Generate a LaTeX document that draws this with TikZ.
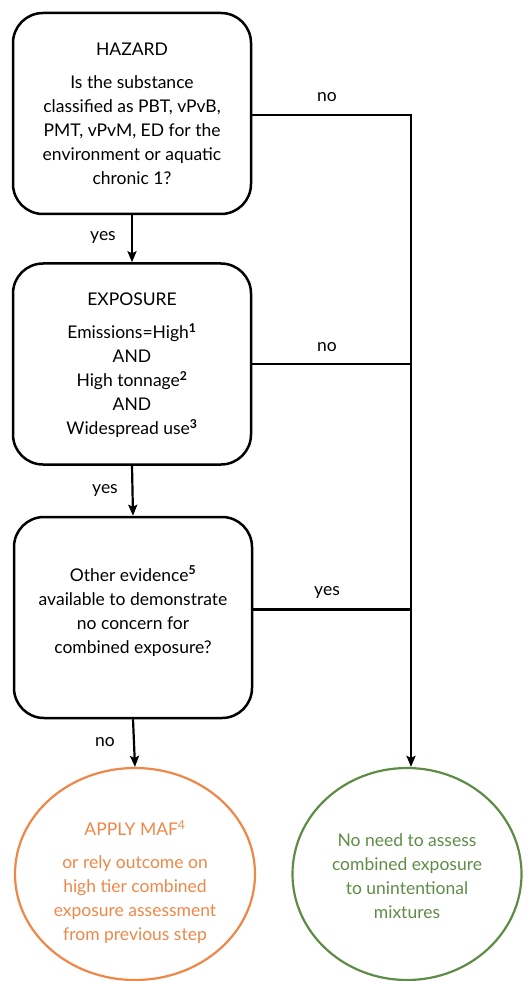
\documentclass[tikz,border=0pt]{standalone}
\usepackage{fontspec}
\setmainfont{Lato}
\usetikzlibrary{arrows.meta,shapes.geometric}
\definecolor{orangec}{HTML}{EE8748}
\definecolor{greenc}{HTML}{5E8C46}
\tikzset{
  stepbox/.style={draw=black, line width=2.5pt, rounded corners=30pt, minimum width=238pt, minimum height=201pt, inner sep=0pt},
  boxtext/.style={align=center, font=\fontsize{17.5}{24}\selectfont, inner sep=0pt},
  lbl/.style={font=\fontsize{17.5}{20}\selectfont, inner sep=0pt},
  conn/.style={line width=2.2pt, -{Stealth[length=11pt,width=9pt,inset=2pt]}},
  plain/.style={line width=2.2pt},
  endcirc/.style={draw, line width=2.2pt, ellipse, inner sep=0pt},
}
\begin{document}
\begin{tikzpicture}[x=1pt,y=-1pt]
\useasboundingbox (0,0) rectangle (527,981);
\node[stepbox] (box1) at (132,113.5) {};
\node[stepbox] (box2) at (132,364) {};
\node[stepbox] (box3) at (133,617.5) {};
\node[boxtext] (t1) at (132,113.5) {HAZARD\\[9pt]Is the substance\\classified as PBT, vPvB,\\PMT, vPvM, ED for the\\environment or aquatic\\chronic 1?};
\node[boxtext] (t2) at (132,365) {EXPOSURE\\[9pt]Emissions=High\textsuperscript{\textbf{1}}\\AND\\High tonnage\textsuperscript{\textbf{2}}\\AND\\Widespread use\textsuperscript{\textbf{3}}};
\node[boxtext] (t3) at (133,611) {Other evidence\textsuperscript{\textbf{5}}\\available to demonstrate\\no concern for\\combined exposure?};
\node[endcirc, draw=orangec, minimum width=240pt, minimum height=212pt] (maf) at (135,874) {};
\node[endcirc, draw=greenc, minimum width=229pt, minimum height=212pt] (noneed) at (407,874) {};
\node[boxtext, text=orangec] (t4) at (135,882) {APPLY MAF\textsuperscript{4}\\[9pt]or rely outcome on\\high tier combined\\exposure assessment\\from previous step};
\node[boxtext, text=greenc] (t5) at (407,876.5) {No need to assess\\combined exposure\\to unintentional\\mixtures};
\coordinate (c1) at (411,115);
\draw[conn] (box1.south) -- (box2.north);
\draw[conn] (box2.south) -- (box3.north);
\draw[conn] (box3.south) -- (maf.north);
\draw[conn] (box1.east |- c1) -- (c1) -- (c1 |- noneed.north);
\draw[plain] (box2.east) -- (box2.east -| c1);
\draw[plain] ([yshift=8pt]box3.east) -- ([yshift=8pt]box3.east -| c1);
\node[lbl] (l1) at (327,97) {no};
\node[lbl] (l2) at (327,347) {no};
\node[lbl] (l3) at (327,592) {yes};
\node[lbl] (l4) at (103,237) {yes};
\node[lbl] (l5) at (105,490) {yes};
\node[lbl] (l6) at (105,742) {no};
\end{tikzpicture}
\end{document}
